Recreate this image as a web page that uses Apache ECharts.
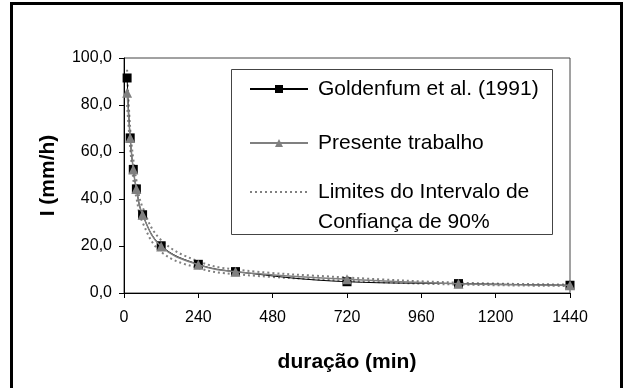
<!DOCTYPE html>
<html>
<head>
<meta charset="utf-8">
<script src="https://cdn.jsdelivr.net/npm/echarts@6/dist/echarts.min.js"></script>
<style>
html,body{margin:0;padding:0;background:#fff;}
#chart{width:627px;height:388px;}
</style>
</head>
<body>
<div id="chart"></div>
<script>
// Data
var durations = [10, 20, 30, 40, 60, 120, 240, 360, 720, 1080, 1440];
var goldenfum = [91.5, 66.0, 52.6, 44.3, 33.3, 20.1, 12.2, 9.1, 4.8, 4.0, 3.3];
var presente  = [85.2, 66.0, 52.6, 44.3, 33.3, 19.8, 12.0, 9.0, 5.8, 3.9, 3.3];
var upperLimit = [95.0, 70.0, 57.0, 48.0, 36.5, 22.5, 13.5, 10.0, 6.6, 4.4, 3.6];
var lowerLimit = [80.0, 62.0, 48.5, 40.5, 30.0, 17.5, 10.6, 8.0, 5.2, 3.6, 3.0];
var xTicks = [0, 240, 480, 720, 960, 1200, 1440];
var yTicks = [0, 20, 40, 60, 80, 100];

var NAME_G = 'Goldenfum et al. (1991)';
var NAME_P = 'Presente trabalho';
var NAME_L = 'Limites do Intervalo de\nConfiança de 90%';

function pairs(xs, ys) { return xs.map(function (x, i) { return [x, ys[i]]; }); }

var FONT = "'Liberation Sans', Arial, sans-serif";
var chart = echarts.init(document.getElementById('chart'), null, {renderer: 'canvas'});
var option = {
  backgroundColor: '#fff',
  animation: false,
  textStyle: {fontFamily: FONT},
  grid: {left: 124, top: 58, right: 57, bottom: 95, show: true, borderColor: '#444', borderWidth: 1},
  xAxis: {
    type: 'value', min: xTicks[0], max: xTicks[xTicks.length - 1], interval: 240,
    name: 'duração (min)', nameLocation: 'middle', nameGap: 59,
    nameTextStyle: {fontFamily: FONT, fontSize: 21, fontWeight: 'bold', color: '#000'},
    axisLine: {lineStyle: {color: '#000', width: 1}},
    axisTick: {show: true, inside: false, length: 5, lineStyle: {color: '#000'}},
    axisLabel: {fontFamily: FONT, fontSize: 16, color: '#000', margin: 17,
      formatter: function (v) { return String(v); }},
    splitLine: {show: false}
  },
  yAxis: {
    type: 'value', min: yTicks[0], max: yTicks[yTicks.length - 1], interval: 20,
    name: 'I (mm/h)', nameLocation: 'middle', nameGap: 65, nameRotate: 90,
    nameTextStyle: {fontFamily: FONT, fontSize: 21, fontWeight: 'bold', color: '#000'},
    axisLine: {show: true, lineStyle: {color: '#000', width: 1}},
    axisTick: {show: true, inside: false, length: 5, lineStyle: {color: '#000'}},
    axisLabel: {fontFamily: FONT, fontSize: 16, color: '#000', margin: 12,
      formatter: function (v) { return v.toFixed(1).replace('.', ','); }},
    splitLine: {show: false}
  },
  legend: [
    {
      orient: 'vertical', left: 249, top: 77, padding: 0, itemGap: 30,
      itemWidth: 58, itemHeight: 10,
      textStyle: {fontFamily: FONT, fontSize: 21, lineHeight: 24, color: '#000', padding: [0, 0, 0, 5]},
      data: [NAME_G, NAME_P]
    },
    {
      orient: 'vertical', left: 249, top: 147, padding: 0,
      itemWidth: 58, itemHeight: 10,
      formatter: function (n) { return '\n' + n; },
      textStyle: {fontFamily: FONT, fontSize: 21, lineHeight: 30, color: '#000', padding: [0, 0, 0, 5]},
      data: [{name: NAME_L, itemStyle: {opacity: 0}}]
    }
  ],
  graphic: [
    {type: 'rect', silent: true, z: 100,
      shape: {x: 231.5, y: 69.5, width: 321, height: 165},
      style: {fill: null, stroke: '#444', lineWidth: 1}},
    {type: 'rect', silent: true, z: 100,
      shape: {x: 11.5, y: 3.5, width: 610, height: 400},
      style: {fill: null, stroke: '#000', lineWidth: 3}}
  ],
  series: [
    {name: NAME_L, type: 'line', smooth: 0.4, symbol: 'none', data: pairs(durations, upperLimit),
      lineStyle: {color: '#808080', width: 2, type: [2, 3]}, itemStyle: {color: '#808080'}, z: 2},
    {name: NAME_L, type: 'line', smooth: 0.4, symbol: 'none', data: pairs(durations, lowerLimit),
      lineStyle: {color: '#808080', width: 2, type: [2, 3]}, itemStyle: {color: '#808080'}, z: 2},
    {name: NAME_G, type: 'line', smooth: 0.4, symbol: 'rect', symbolSize: 9, data: pairs(durations, goldenfum),
      lineStyle: {color: '#000', width: 1}, itemStyle: {color: '#000'}, z: 3},
    {name: NAME_P, type: 'line', smooth: 0.4, symbol: 'triangle', symbolSize: 10, data: pairs(durations, presente),
      lineStyle: {color: '#808080', width: 1.5}, itemStyle: {color: '#808080'}, z: 4}
  ]
};
chart.setOption(option);
</script>
</body>
</html>
